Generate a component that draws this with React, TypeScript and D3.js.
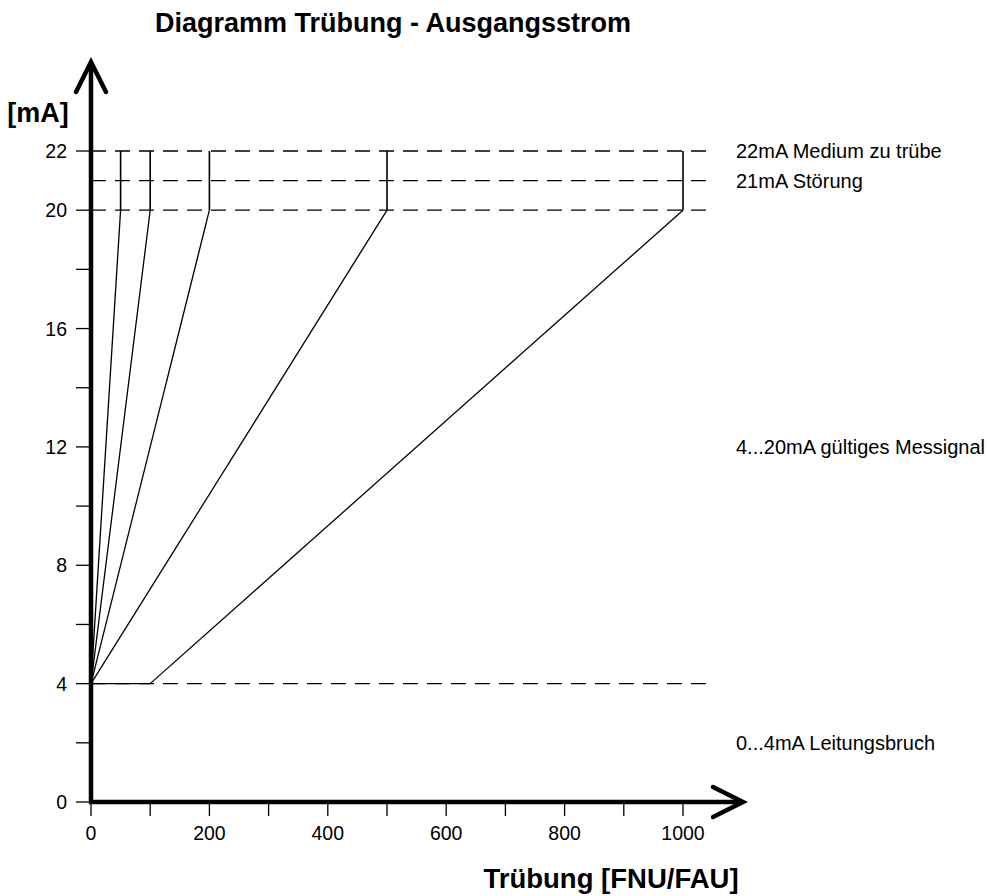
import React from "react";
import * as d3 from "d3";

const title = "Diagramm Trübung - Ausgangsstrom";
const yLabel = "[mA]";
const xLabel = "Trübung [FNU/FAU]";
const xTicks = [0, 100, 200, 300, 400, 500, 600, 700, 800, 900, 1000];
const xTickLabels = [0, 200, 400, 600, 800, 1000];
const yTicks = [0, 2, 4, 6, 8, 10, 12, 14, 16, 18, 20, 22];
const yTickLabels = [0, 4, 8, 12, 16, 20, 22];
const rangeEnds = [50, 100, 200, 500, 1000];
const rangeStarts = [0, 0, 0, 0, 100];
const dashedLevels = [22, 21, 20, 4];
const zoneLabels = [
  { mA: 22, text: "22mA Medium zu trübe" },
  { mA: 21, text: "21mA Störung" },
  { mA: 12, text: "4...20mA gültiges Messignal" },
  { mA: 2, text: "0...4mA Leitungsbruch" },
];

export default function App() {
  const W = 987, H = 896;
  const x = d3.scaleLinear().domain([0, 1000]).range([91, 683]);
  const y = d3.scaleLinear().domain([0, 22]).range([802, 151]);
  const font = "'Liberation Sans', Arial, Helvetica, sans-serif";
  const dashEnd = 715;
  const line = d3.line<[number, number]>().x(d => x(d[0])).y(d => y(d[1]));

  return (
    <svg width={W} height={H} style={{ position: "absolute", left: 0, top: 0 }} fontFamily={font}>
      <rect width={W} height={H} fill="#fff" />
      <text x={393} y={32} textAnchor="middle" fontSize={27} fontWeight="bold">{title}</text>
      <text x={38} y={122} textAnchor="middle" fontSize={27} fontWeight="bold">{yLabel}</text>
      <text x={611} y={888} textAnchor="middle" fontSize={27.5} fontWeight="bold">{xLabel}</text>

      {/* dashed levels */}
      {dashedLevels.map(v => (
        <line key={"d" + v} x1={x(0)} x2={dashEnd} y1={y(v)} y2={y(v)} stroke="#000" strokeWidth={1.3} strokeDasharray="15,9" />
      ))}
      {/* solid segment at 4 */}
      <path d={line([[0, 4], [100, 4]]) || ""} stroke="#000" strokeWidth={1.3} fill="none" />

      {/* range lines */}
      {rangeEnds.map((e, i) => (
        <g key={"r" + e}>
          <path d={line([[rangeStarts[i], 4], [e, 20]]) || ""} stroke="#000" strokeWidth={1.3} fill="none" />
          <path d={line([[e, 20], [e, 22]]) || ""} stroke="#000" strokeWidth={1.6} fill="none" />
        </g>
      ))}

      {/* y ticks */}
      {yTicks.map(v => (
        <line key={"yt" + v} x1={76} x2={x(0)} y1={y(v)} y2={y(v)} stroke="#000" strokeWidth={1.3} />
      ))}
      {yTickLabels.map(v => (
        <text key={"yl" + v} x={67} y={y(v)} dy="0.36em" textAnchor="end" fontSize={19.5}>{v}</text>
      ))}
      {/* x ticks */}
      {xTicks.map(v => (
        <line key={"xt" + v} x1={x(v)} x2={x(v)} y1={y(0)} y2={816} stroke="#000" strokeWidth={1.3} />
      ))}
      {xTickLabels.map(v => (
        <text key={"xl" + v} x={x(v)} y={840} textAnchor="middle" fontSize={19.5}>{v}</text>
      ))}

      {/* axes */}
      <line x1={x(0)} y1={y(0)} x2={x(0)} y2={62} stroke="#000" strokeWidth={4.5} />
      <path d="M76,92 L91,62 L106,92" stroke="#000" strokeWidth={4.5} fill="none" strokeLinecap="round" strokeLinejoin="miter" />
      <line x1={x(0) - 2} y1={y(0)} x2={742} y2={y(0)} stroke="#000" strokeWidth={4.5} />
      <path d="M713,787 L743,802 L713,817" stroke="#000" strokeWidth={4.5} fill="none" strokeLinecap="round" strokeLinejoin="miter" />

      {zoneLabels.map(z => (
        <text key={z.text} x={736} y={y(z.mA)} dy="0.36em" fontSize={20}>{z.text}</text>
      ))}
    </svg>
  );
}
